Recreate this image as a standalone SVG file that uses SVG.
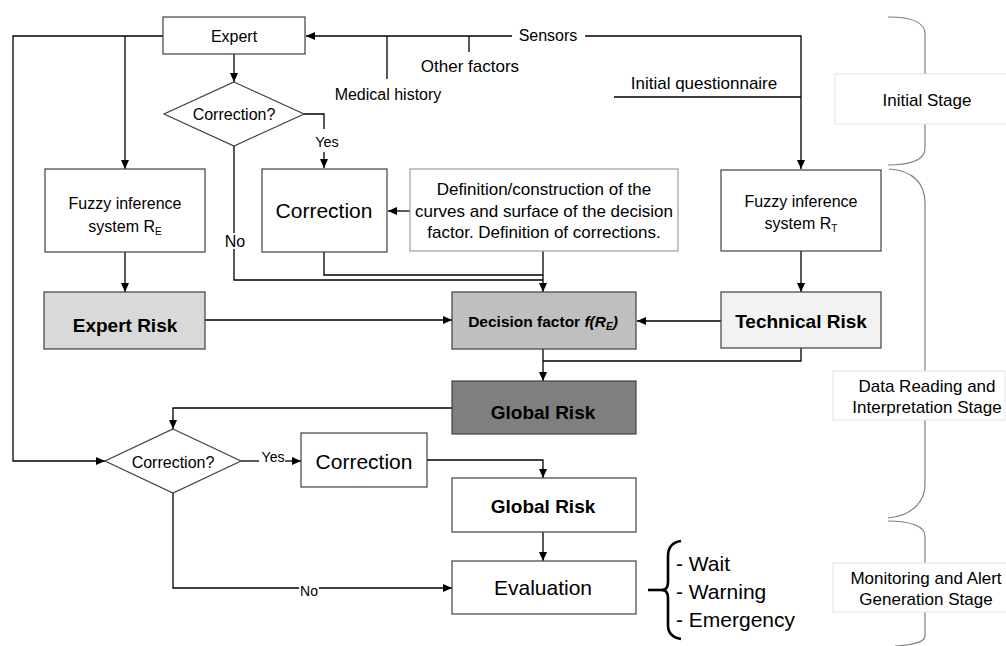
<svg xmlns="http://www.w3.org/2000/svg" width="1006" height="646" viewBox="0 0 1006 646">
<style>
text{font-family:"Liberation Sans",Arial,sans-serif;fill:#000}
.box{fill:#fff;stroke:#404040;stroke-width:1.2}
.lbox{fill:#fff;stroke:#a0a0a0;stroke-width:1.2}
.stage{fill:#fff;stroke:#e4e4e4;stroke-width:1}
.c{fill:none;stroke:#000;stroke-width:1.3}
.ca{fill:none;stroke:#000;stroke-width:1.3;marker-end:url(#ah)}
.brace{fill:none;stroke:#808080;stroke-width:1.2}
.t16{font-size:16px}
.t17{font-size:17px}
.t21{font-size:21px}
.b19{font-size:19px;font-weight:bold}
.m{text-anchor:middle}
</style>
<defs>
<marker id="ah" markerUnits="userSpaceOnUse" markerWidth="9" markerHeight="8" refX="9" refY="4" orient="auto">
<path d="M0,0 L9,4 L0,8 z" fill="#000"/>
</marker>
</defs>
<rect width="1006" height="646" fill="#fff"/>

<g id="stage-braces">
<path class="brace" d="M888,17 C913,17 925,23 925,34 V148 C925,159 913,165 888,165"/>
<path class="brace" d="M889,169 C913,170 925,184 925,203 V485 C925,501 912,516 888,518"/>
<path class="brace" d="M888,521 C910,521 925,526 925,536 V636 C925,641 915,645 895,646"/>
</g>

<g id="connectors">
<!-- Expert to left rail and fuzzy RE -->
<polyline class="ca" points="163,36 13,36 13,461 105,461"/>
<line class="ca" x1="125" y1="36" x2="125" y2="169"/>
<!-- Sensors to Expert -->
<line class="ca" x1="512" y1="36" x2="306" y2="36"/>
<line class="c" x1="387" y1="36" x2="387" y2="79"/>
<line class="c" x1="469" y1="36" x2="469" y2="52"/>
<polyline class="ca" points="585,36 801,36 801,169"/>
<line class="c" x1="614" y1="97" x2="801" y2="97"/>
<!-- Expert to diamond -->
<line class="ca" x1="234" y1="54" x2="234" y2="82"/>
<!-- Yes top -->
<polyline class="c" points="304,114 324,114 324,129"/>
<line class="ca" x1="324" y1="152" x2="324" y2="168"/>
<!-- No top -->
<line class="c" x1="234" y1="146" x2="234" y2="233"/>
<polyline class="c" points="234,249 234,280 543,280"/>
<!-- Correction bottom -->
<polyline class="c" points="324,252 324,275 543,275"/>
<!-- Definition to correction -->
<line class="ca" x1="410" y1="211" x2="388" y2="211"/>
<!-- Definition to decision -->
<line class="ca" x1="543" y1="251" x2="543" y2="292"/>
<!-- Fuzzy RE to Expert Risk -->
<line class="ca" x1="125" y1="252" x2="125" y2="292"/>
<!-- Expert Risk to Decision -->
<line class="ca" x1="205" y1="320" x2="452" y2="320"/>
<!-- Fuzzy RT to Tech Risk -->
<line class="ca" x1="801" y1="251" x2="801" y2="292"/>
<!-- Tech Risk to Decision -->
<line class="ca" x1="721" y1="321" x2="637" y2="321"/>
<!-- Decision to Global -->
<line class="ca" x1="543" y1="349" x2="543" y2="381"/>
<polyline class="c" points="801,348 801,361 543,361"/>
<!-- Global to diamond 2 -->
<polyline class="ca" points="452,408 173,408 173,429"/>
<!-- Yes 2 -->
<line class="c" x1="241" y1="461" x2="259" y2="461"/>
<line class="ca" x1="285" y1="461" x2="301" y2="461"/>
<!-- Correction 2 to Global 2 -->
<polyline class="ca" points="427,460 543,460 543,478"/>
<!-- Global 2 to Evaluation -->
<line class="ca" x1="543" y1="532" x2="543" y2="561"/>
<!-- No bottom -->
<polyline class="c" points="173,493 173,588 299,588"/>
<line class="ca" x1="319" y1="588" x2="452" y2="588"/>
<!-- Evaluation brace -->
<line x1="648" y1="590" x2="664" y2="590" stroke="#000" stroke-width="2.6"/>
<path d="M681,541 Q668,543 668,556 L668,582 Q668,590 662,590 Q668,590 668,598 L668,625 Q668,637 681,639" fill="none" stroke="#000" stroke-width="2.6"/>
</g>

<g id="labels">
<text class="t16 m" x="548" y="41">Sensors</text>
<text class="t17 m" x="470" y="72">Other factors</text>
<text class="t16 m" x="388" y="100">Medical history</text>
<text class="t17 m" x="704" y="89">Initial questionnaire</text>
<text class="m" font-size="14.5" x="327" y="147">Yes</text>
<text class="t16 m" x="235" y="247">No</text>
<text class="m" font-size="14" x="273" y="462">Yes</text>
<text class="m" font-size="14" x="309" y="596">No</text>
<text class="t21" x="676" y="571">- Wait</text>
<text class="t21" x="676" y="599">- Warning</text>
<text class="t21" x="676" y="627">- Emergency</text>
</g>

<g id="expert">
<rect class="box" x="163" y="17" width="142" height="37"/>
<text class="t16 m" x="234" y="42">Expert</text>
</g>

<g id="correction-q1">
<polygon class="box" points="234,82 304,114 234,146 164,114"/>
<text class="t16 m" x="234" y="120">Correction?</text>
</g>

<g id="fuzzy-re">
<rect class="box" x="45" y="169" width="160" height="83"/>
<text class="t16 m" x="125" y="209">Fuzzy inference</text>
<text class="t16 m" x="125" y="232">system R<tspan font-size="10" dy="3">E</tspan></text>
</g>

<g id="correction-1">
<rect class="box" x="262" y="169" width="125" height="83"/>
<text class="t21 m" x="324" y="218">Correction</text>
</g>

<g id="definition">
<rect class="lbox" x="410" y="169" width="268" height="82"/>
<text class="t17 m" x="544" y="195">Definition/construction of the</text>
<text class="t17 m" x="544" y="217">curves and surface of the decision</text>
<text class="t17 m" x="544" y="238">factor. Definition of corrections.</text>
</g>

<g id="fuzzy-rt">
<rect class="box" x="721" y="170" width="160" height="81"/>
<text class="t16 m" x="801" y="207">Fuzzy inference</text>
<text class="t16 m" x="801" y="229">system R<tspan font-size="10" dy="3">T</tspan></text>
</g>

<g id="expert-risk">
<rect class="box" x="44" y="292" width="161" height="57" fill="#d9d9d9" style="fill:#d9d9d9"/>
<text class="b19 m" x="125" y="332">Expert Risk</text>
</g>

<g id="decision-factor">
<rect class="box" x="452" y="292" width="184" height="57" style="fill:#bfbfbf"/>
<text class="m" font-size="15.5" font-weight="bold" x="543" y="327">Decision factor <tspan font-style="italic">f(R<tspan font-size="10" dy="3">E</tspan><tspan dy="-3">)</tspan></tspan></text>
</g>

<g id="technical-risk">
<rect class="box" x="721" y="292" width="160" height="56" style="fill:#f2f2f2"/>
<text class="b19 m" x="801" y="328">Technical Risk</text>
</g>

<g id="global-risk-1">
<rect class="box" x="452" y="381" width="184" height="53" style="fill:#7f7f7f"/>
<text class="b19 m" x="543" y="419">Global Risk</text>
</g>

<g id="correction-q2">
<polygon class="box" points="173,429 241,461 173,493 105,461"/>
<text class="t16 m" x="173" y="468">Correction?</text>
</g>

<g id="correction-2">
<rect class="box" x="301" y="433" width="126" height="54"/>
<text class="t21 m" x="364" y="469">Correction</text>
</g>

<g id="global-risk-2">
<rect class="box" x="452" y="478" width="184" height="54"/>
<text class="b19 m" x="543" y="513">Global Risk</text>
</g>

<g id="evaluation">
<rect class="box" x="452" y="561" width="184" height="53"/>
<text class="t21 m" x="543" y="595">Evaluation</text>
</g>

<g id="stage-initial">
<rect class="stage" x="835" y="74" width="175" height="50"/>
<text class="t17 m" x="927" y="106">Initial Stage</text>
</g>

<g id="stage-data">
<rect class="stage" x="833" y="371" width="172" height="49"/>
<text class="t17 m" x="927" y="392">Data Reading and</text>
<text class="t17 m" x="927" y="413">Interpretation Stage</text>
</g>

<g id="stage-monitoring">
<rect class="stage" x="833" y="563" width="177" height="49"/>
<text class="t17 m" x="926" y="584">Monitoring and Alert</text>
<text class="t17 m" x="926" y="605">Generation Stage</text>
</g>
</svg>
